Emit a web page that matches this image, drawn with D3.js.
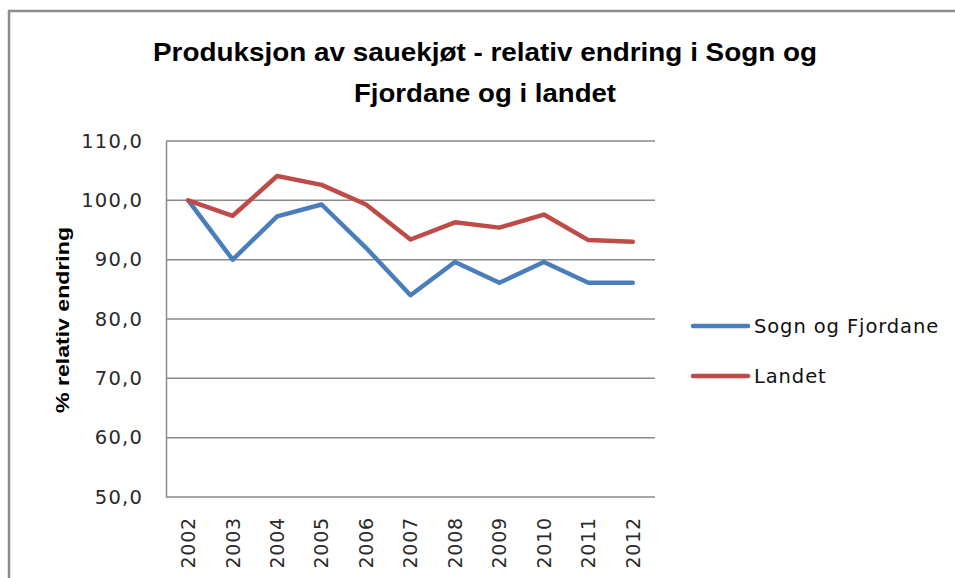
<!DOCTYPE html>
<html>
<head>
<meta charset="utf-8">
<script src="https://cdn.jsdelivr.net/npm/d3@7"></script>
<style>
  body { margin: 0; background: #fff; }
  svg { display: block; }
</style>
</head>
<body>
<svg width="955" height="578"></svg>
<script>
var width = 955;
var height = 578;

// data
var years = ["2002", "2003", "2004", "2005", "2006", "2007", "2008", "2009", "2010", "2011", "2012"];
var sognFjordane = [100.0, 90.0, 97.3, 99.3, 92.0, 84.0, 89.6, 86.1, 89.6, 86.1, 86.1];
var landet = [100.0, 97.4, 104.1, 102.6, 99.3, 93.4, 96.3, 95.4, 97.6, 93.3, 93.0];
var yTicks = [50, 60, 70, 80, 90, 100, 110];
var seriesNames = ["Sogn og Fjordane", "Landet"];
var seriesColors = ["#4a7ebb", "#be4b48"];

var plot = { left: 166, right: 655, top: 141, bottom: 497 };

var chart = d3.select("svg");

// outer frame of the chart (only top and left edges visible)
chart.append("path")
    .attr("d", "M9," + height + " V11 H" + width)
    .attr("fill", "none")
    .attr("stroke", "#8c8c8c")
    .attr("stroke-width", 2.5);

// title
var title = chart.append("text")
    .attr("text-anchor", "middle")
    .attr("font-family", "'Liberation Sans Narrow', 'Liberation Sans', sans-serif")
    .attr("font-weight", "bold")
    .attr("font-size", "25px")
    .attr("fill", "#000");
title.append("tspan").attr("x", 485).attr("y", 61)
    .attr("textLength", 664).attr("lengthAdjust", "spacingAndGlyphs")
    .text("Produksjon av sauekjøt - relativ endring i Sogn og");
title.append("tspan").attr("x", 485).attr("y", 102)
    .attr("textLength", 262).attr("lengthAdjust", "spacingAndGlyphs")
    .text("Fjordane og i landet");

// scales
var x = d3.scaleBand().domain(years).range([plot.left, plot.right]);
var y = d3.scaleLinear().domain([50, 110]).range([plot.bottom, plot.top]);

// gridlines
chart.append("g")
    .selectAll("line")
    .data(yTicks)
    .enter()
    .append("line")
    .attr("x1", plot.left)
    .attr("x2", plot.right)
    .attr("y1", function(d) { return y(d); })
    .attr("y2", function(d) { return y(d); })
    .attr("stroke", "#8a8a8a")
    .attr("stroke-width", 1.5);

// y axis
var yAxis = d3.axisLeft(y)
    .tickValues(yTicks)
    .tickSize(0)
    .tickPadding(23)
    .tickFormat(function(d) { return d3.format(".1f")(d).replace(".", ","); });
var yAxisG = chart.append("g")
    .attr("transform", "translate(" + plot.left + ",0)")
    .call(yAxis);
yAxisG.select(".domain")
    .attr("stroke", "#8a8a8a")
    .attr("stroke-width", 1.5);
yAxisG.selectAll("text")
    .attr("font-family", "'DejaVu Sans', Verdana, sans-serif")
    .attr("font-size", "19.5px")
    .attr("letter-spacing", "1.2px")
    .attr("fill", "#2a2a2a");

// x axis
var xAxis = d3.axisBottom(x).tickSize(0).tickPadding(20);
var xAxisG = chart.append("g")
    .attr("transform", "translate(0," + plot.bottom + ")")
    .call(xAxis);
xAxisG.select(".domain").remove();
xAxisG.selectAll("text")
    .attr("font-family", "'DejaVu Sans', Verdana, sans-serif")
    .attr("font-size", "19px")
    .attr("letter-spacing", "0.8px")
    .attr("fill", "#2a2a2a")
    .attr("transform", "rotate(-90)")
    .attr("text-anchor", "end")
    .attr("x", -20)
    .attr("y", 0)
    .attr("dy", "0.36em")
    .attr("dx", 0);

// y axis label
chart.append("text")
    .attr("transform", "translate(69,320) rotate(-90)")
    .attr("text-anchor", "middle")
    .attr("font-family", "'Liberation Sans', Arial, sans-serif")
    .attr("font-weight", "bold")
    .attr("font-size", "19px")
    .attr("textLength", 186)
    .attr("lengthAdjust", "spacingAndGlyphs")
    .attr("fill", "#000")
    .text("% relativ endring");

// lines
var line = d3.line()
    .x(function(d, i) { return x(years[i]) + x.bandwidth() / 2; })
    .y(function(d) { return y(d); });

var allSeries = [sognFjordane, landet];
chart.append("g")
    .selectAll("path")
    .data(allSeries)
    .enter()
    .append("path")
    .attr("d", line)
    .attr("fill", "none")
    .attr("stroke", function(d, i) { return seriesColors[i]; })
    .attr("stroke-width", 4.5)
    .attr("stroke-linejoin", "round")
    .attr("stroke-linecap", "round");

// legend
var legend = chart.append("g")
    .selectAll("g")
    .data(seriesNames)
    .enter()
    .append("g")
    .attr("transform", function(d, i) { return "translate(693," + (326 + i * 50) + ")"; });
legend.append("line")
    .attr("x1", 0)
    .attr("x2", 55)
    .attr("stroke", function(d, i) { return seriesColors[i]; })
    .attr("stroke-width", 4.5)
    .attr("stroke-linecap", "round");
legend.append("text")
    .attr("x", 61)
    .attr("dy", "0.35em")
    .attr("font-family", "'DejaVu Sans', Verdana, sans-serif")
    .attr("font-size", "19.5px")
    .attr("letter-spacing", "0.9px")
    .attr("fill", "#111")
    .text(function(d) { return d; });
</script>
</body>
</html>
